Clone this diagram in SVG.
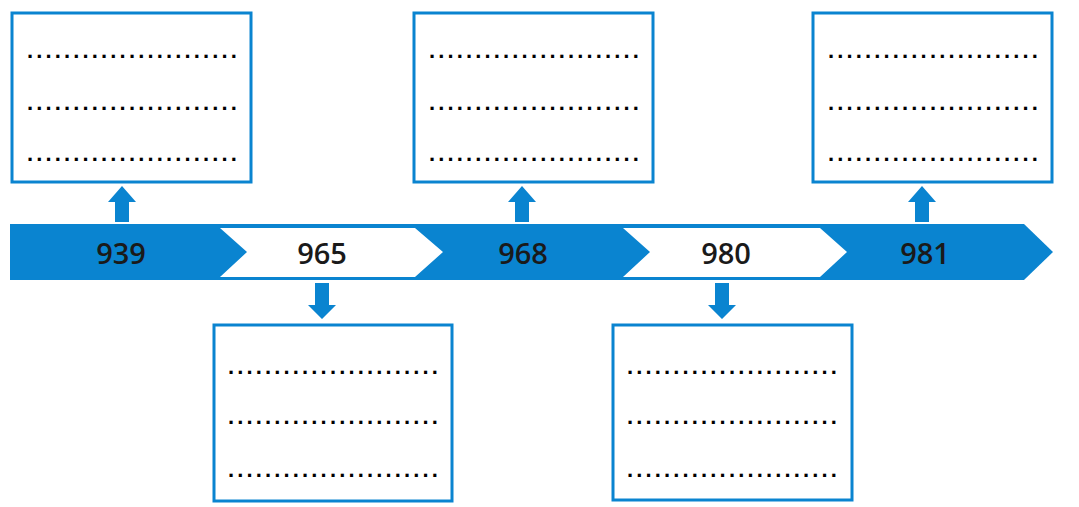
<svg xmlns="http://www.w3.org/2000/svg" width="1079" height="507" viewBox="0 0 1079 507">
<style>
.box{fill:#fff;stroke:#0a84d0;stroke-width:3}
.blue{fill:#0a84d0}
.chev{fill:#fff}
.yr{font-family:"Open Sans","Noto Sans",sans-serif;font-weight:600;font-size:29px;fill:#1a1a1a;text-anchor:middle}
.dots{font-family:"Liberation Sans",Arial,sans-serif;font-weight:bold;font-size:22px;fill:#000;letter-spacing:3.15px}
</style>
<defs>
<path id="up" d="M-7,0 V-20 H-14 L0,-36 L14,-20 H7 V0 Z"/>
<path id="down" d="M-7,0 V22 H-14 L0,36 L14,22 H7 V0 Z"/>
</defs>
<rect width="1079" height="507" fill="#fff"/>
<g id="timeline">
<polygon class="blue" points="10,224 1024,224 1053,252 1024,280 10,280"/>
<polygon class="chev" points="220,228 415,228 443,252 415,277 220,277 247,252"/>
<polygon class="chev" points="623,228 820,228 847,252 820,277 623,277 650,252"/>
<text class="yr" x="121" y="264">939</text>
<text class="yr" x="322" y="264">965</text>
<text class="yr" x="523" y="264">968</text>
<text class="yr" x="726" y="264">980</text>
<text class="yr" x="925" y="264">981</text>
</g>
<g id="connectors">
<use href="#up" class="blue" x="122" y="222"/>
<use href="#up" class="blue" x="522" y="222"/>
<use href="#up" class="blue" x="922" y="222"/>
<use href="#down" class="blue" x="322" y="283"/>
<use href="#down" class="blue" x="722" y="283"/>
</g>
<g id="box939">
<rect class="box" x="12" y="13" width="239" height="169"/>
<text class="dots" x="27" y="58">.......................</text>
<text class="dots" x="27" y="110">.......................</text>
<text class="dots" x="27" y="161">.......................</text>
</g>
<g id="box968">
<rect class="box" x="414" y="13" width="239" height="169"/>
<text class="dots" x="429" y="58">.......................</text>
<text class="dots" x="429" y="110">.......................</text>
<text class="dots" x="429" y="161">.......................</text>
</g>
<g id="box981">
<rect class="box" x="813" y="13" width="239" height="169"/>
<text class="dots" x="828" y="58">.......................</text>
<text class="dots" x="828" y="110">.......................</text>
<text class="dots" x="828" y="161">.......................</text>
</g>
<g id="box965">
<rect class="box" x="214" y="325" width="238" height="176"/>
<text class="dots" x="228" y="374">.......................</text>
<text class="dots" x="228" y="424">.......................</text>
<text class="dots" x="228" y="477">.......................</text>
</g>
<g id="box980">
<rect class="box" x="613" y="325" width="239" height="175"/>
<text class="dots" x="627" y="374">.......................</text>
<text class="dots" x="627" y="424">.......................</text>
<text class="dots" x="627" y="477">.......................</text>
</g>
</svg>
